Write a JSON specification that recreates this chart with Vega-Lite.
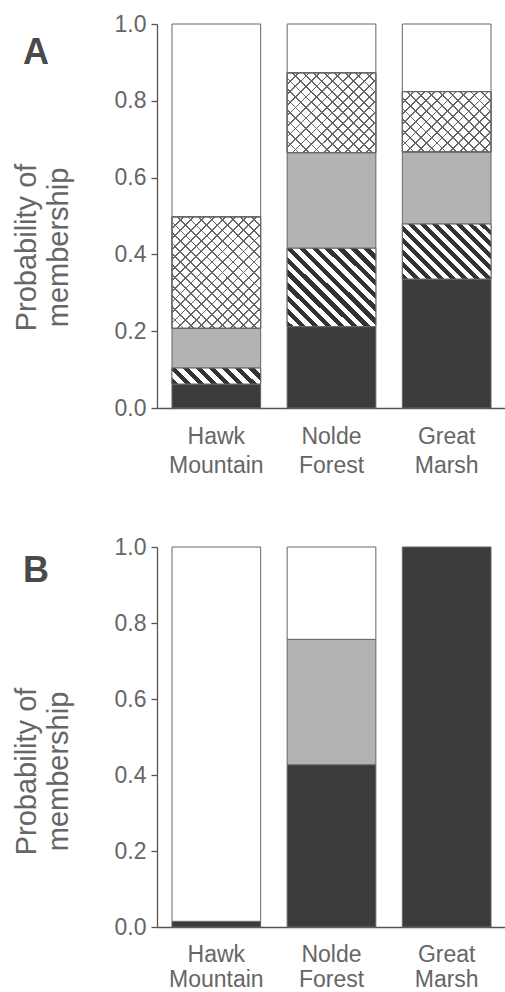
{
  "$schema": "https://vega.github.io/schema/vega-lite/v6.json",
  "padding": {"left": 12, "top": 13, "right": 0, "bottom": 0},
  "spacing": 58,
  "config": {
    "font": "Liberation Sans",
    "view": {"stroke": null},
    "axis": {"grid": false, "domainColor": "#555", "domainWidth": 1.3, "tickColor": "#555", "tickWidth": 1.3, "labelColor": "#666", "titleColor": "#666", "labelFontSize": 23, "titleFontSize": 29, "titleFontWeight": "normal"}
  },
  "datasets": {
    "panelA": [
      {"site": "Hawk Mountain", "cluster": "c1", "p": 0.0625},
      {"site": "Hawk Mountain", "cluster": "c2", "p": 0.0415},
      {"site": "Hawk Mountain", "cluster": "c3", "p": 0.1035},
      {"site": "Hawk Mountain", "cluster": "c4", "p": 0.2905},
      {"site": "Hawk Mountain", "cluster": "c5", "p": 0.502},
      {"site": "Nolde Forest", "cluster": "c1", "p": 0.212},
      {"site": "Nolde Forest", "cluster": "c2", "p": 0.204},
      {"site": "Nolde Forest", "cluster": "c3", "p": 0.249},
      {"site": "Nolde Forest", "cluster": "c4", "p": 0.208},
      {"site": "Nolde Forest", "cluster": "c5", "p": 0.127},
      {"site": "Great Marsh", "cluster": "c1", "p": 0.336},
      {"site": "Great Marsh", "cluster": "c2", "p": 0.143},
      {"site": "Great Marsh", "cluster": "c3", "p": 0.188},
      {"site": "Great Marsh", "cluster": "c4", "p": 0.157},
      {"site": "Great Marsh", "cluster": "c5", "p": 0.176}
    ],
    "panelB": [
      {"site": "Hawk Mountain", "cluster": "c1", "p": 0.015},
      {"site": "Hawk Mountain", "cluster": "c5", "p": 0.985},
      {"site": "Nolde Forest", "cluster": "c1", "p": 0.427},
      {"site": "Nolde Forest", "cluster": "c3", "p": 0.33},
      {"site": "Nolde Forest", "cluster": "c5", "p": 0.243},
      {"site": "Great Marsh", "cluster": "c1", "p": 1.0}
    ]
  },
  "vconcat": [
    {
      "title": {"text": "A", "anchor": "start", "frame": "group", "orient": "top", "offset": 0, "baseline": "alphabetic", "fontSize": 36, "fontWeight": "bold", "color": "#4a4a4a", "dx": -134, "dy": 87},
      "width": 349,
      "height": 384,
      "data": {"name": "panelA"},
      "transform": [{"stack": "p", "groupby": ["site"], "as": ["y0", "y1"]}],
      "encoding": {
        "x": {"field": "site", "type": "nominal", "sort": null, "title": null, "scale": {"paddingInner": 0.23, "paddingOuter": 0.13}, "axis": {"labelAngle": 0, "labelExpr": "split(datum.label, ' ')", "ticks": false, "labelPadding": 17, "labelLineHeight": 29, "labelBaseline": "top", "minExtent": 70, "maxExtent": 70}},
        "y": {"field": "y1", "type": "quantitative", "scale": {"domain": [0, 1]}, "axis": {"title": ["Probability of", "membership"], "values": [0, 0.2, 0.4, 0.6, 0.8, 1], "format": ".1f", "tickSize": 6, "labelPadding": 5, "minExtent": 44, "maxExtent": 44, "titlePadding": 40, "titleY": 223, "titleLineHeight": 32}},
        "y2": {"field": "y0"}
      },
      "layer": [
        {"mark": {"type": "bar", "stroke": "#666", "strokeWidth": 1}, "encoding": {"fill": {"field": "cluster", "type": "nominal", "scale": {"domain": ["c1", "c2", "c3", "c4", "c5"], "range": ["#3b3b3b", "#ffffff", "#b3b3b3", "#ffffff", "#ffffff"]}, "legend": null}}},
        {"transform": [{"filter": "datum.cluster == 'c2' && datum.site == 'Hawk Mountain'"}], "mark": {"type": "bar", "stroke": "#666", "strokeWidth": 1, "fill": {"gradient": "linear", "x1": 0, "y1": 1, "x2": 1.143, "y2": 0.794, "stops": [{"offset":0,"color":"#333"},{"offset":0.0625,"color":"#333"},{"offset":0.0625,"color":"#fff"},{"offset":0.125,"color":"#fff"},{"offset":0.125,"color":"#333"},{"offset":0.1875,"color":"#333"},{"offset":0.1875,"color":"#fff"},{"offset":0.25,"color":"#fff"},{"offset":0.25,"color":"#333"},{"offset":0.3125,"color":"#333"},{"offset":0.3125,"color":"#fff"},{"offset":0.375,"color":"#fff"},{"offset":0.375,"color":"#333"},{"offset":0.4375,"color":"#333"},{"offset":0.4375,"color":"#fff"},{"offset":0.5,"color":"#fff"},{"offset":0.5,"color":"#333"},{"offset":0.5625,"color":"#333"},{"offset":0.5625,"color":"#fff"},{"offset":0.625,"color":"#fff"},{"offset":0.625,"color":"#333"},{"offset":0.6875,"color":"#333"},{"offset":0.6875,"color":"#fff"},{"offset":0.75,"color":"#fff"},{"offset":0.75,"color":"#333"},{"offset":0.8125,"color":"#333"},{"offset":0.8125,"color":"#fff"},{"offset":0.875,"color":"#fff"},{"offset":0.875,"color":"#333"},{"offset":0.9375,"color":"#333"},{"offset":0.9375,"color":"#fff"},{"offset":1,"color":"#fff"}]}}},
        {"transform": [{"filter": "datum.cluster == 'c2' && datum.site == 'Nolde Forest'"}], "mark": {"type": "bar", "stroke": "#666", "strokeWidth": 1, "fill": {"gradient": "linear", "x1": 0, "y1": 1, "x2": 1.053, "y2": 0.06, "stops": [{"offset":0,"color":"#333"},{"offset":0.0385,"color":"#333"},{"offset":0.0385,"color":"#fff"},{"offset":0.0769,"color":"#fff"},{"offset":0.0769,"color":"#333"},{"offset":0.1154,"color":"#333"},{"offset":0.1154,"color":"#fff"},{"offset":0.1538,"color":"#fff"},{"offset":0.1538,"color":"#333"},{"offset":0.1923,"color":"#333"},{"offset":0.1923,"color":"#fff"},{"offset":0.2308,"color":"#fff"},{"offset":0.2308,"color":"#333"},{"offset":0.2692,"color":"#333"},{"offset":0.2692,"color":"#fff"},{"offset":0.3077,"color":"#fff"},{"offset":0.3077,"color":"#333"},{"offset":0.3462,"color":"#333"},{"offset":0.3462,"color":"#fff"},{"offset":0.3846,"color":"#fff"},{"offset":0.3846,"color":"#333"},{"offset":0.4231,"color":"#333"},{"offset":0.4231,"color":"#fff"},{"offset":0.4615,"color":"#fff"},{"offset":0.4615,"color":"#333"},{"offset":0.5,"color":"#333"},{"offset":0.5,"color":"#fff"},{"offset":0.5385,"color":"#fff"},{"offset":0.5385,"color":"#333"},{"offset":0.5769,"color":"#333"},{"offset":0.5769,"color":"#fff"},{"offset":0.6154,"color":"#fff"},{"offset":0.6154,"color":"#333"},{"offset":0.6538,"color":"#333"},{"offset":0.6538,"color":"#fff"},{"offset":0.6923,"color":"#fff"},{"offset":0.6923,"color":"#333"},{"offset":0.7308,"color":"#333"},{"offset":0.7308,"color":"#fff"},{"offset":0.7692,"color":"#fff"},{"offset":0.7692,"color":"#333"},{"offset":0.8077,"color":"#333"},{"offset":0.8077,"color":"#fff"},{"offset":0.8462,"color":"#fff"},{"offset":0.8462,"color":"#333"},{"offset":0.8846,"color":"#333"},{"offset":0.8846,"color":"#fff"},{"offset":0.9231,"color":"#fff"},{"offset":0.9231,"color":"#333"},{"offset":0.9615,"color":"#333"},{"offset":0.9615,"color":"#fff"},{"offset":1,"color":"#fff"}]}}},
        {"transform": [{"filter": "datum.cluster == 'c2' && datum.site == 'Great Marsh'"}], "mark": {"type": "bar", "stroke": "#666", "strokeWidth": 1, "fill": {"gradient": "linear", "x1": 0, "y1": 1, "x2": 1.17, "y2": 0.274, "stops": [{"offset":0,"color":"#333"},{"offset":0.0417,"color":"#333"},{"offset":0.0417,"color":"#fff"},{"offset":0.0833,"color":"#fff"},{"offset":0.0833,"color":"#333"},{"offset":0.125,"color":"#333"},{"offset":0.125,"color":"#fff"},{"offset":0.1667,"color":"#fff"},{"offset":0.1667,"color":"#333"},{"offset":0.2083,"color":"#333"},{"offset":0.2083,"color":"#fff"},{"offset":0.25,"color":"#fff"},{"offset":0.25,"color":"#333"},{"offset":0.2917,"color":"#333"},{"offset":0.2917,"color":"#fff"},{"offset":0.3333,"color":"#fff"},{"offset":0.3333,"color":"#333"},{"offset":0.375,"color":"#333"},{"offset":0.375,"color":"#fff"},{"offset":0.4167,"color":"#fff"},{"offset":0.4167,"color":"#333"},{"offset":0.4583,"color":"#333"},{"offset":0.4583,"color":"#fff"},{"offset":0.5,"color":"#fff"},{"offset":0.5,"color":"#333"},{"offset":0.5417,"color":"#333"},{"offset":0.5417,"color":"#fff"},{"offset":0.5833,"color":"#fff"},{"offset":0.5833,"color":"#333"},{"offset":0.625,"color":"#333"},{"offset":0.625,"color":"#fff"},{"offset":0.6667,"color":"#fff"},{"offset":0.6667,"color":"#333"},{"offset":0.7083,"color":"#333"},{"offset":0.7083,"color":"#fff"},{"offset":0.75,"color":"#fff"},{"offset":0.75,"color":"#333"},{"offset":0.7917,"color":"#333"},{"offset":0.7917,"color":"#fff"},{"offset":0.8333,"color":"#fff"},{"offset":0.8333,"color":"#333"},{"offset":0.875,"color":"#333"},{"offset":0.875,"color":"#fff"},{"offset":0.9167,"color":"#fff"},{"offset":0.9167,"color":"#333"},{"offset":0.9583,"color":"#333"},{"offset":0.9583,"color":"#fff"},{"offset":1,"color":"#fff"}]}}},
        {"transform": [{"filter": "datum.cluster == 'c4' && datum.site == 'Hawk Mountain'"}], "mark": {"type": "bar", "stroke": "#666", "strokeWidth": 1, "fill": {"gradient": "linear", "x1": 0, "y1": 1, "x2": 0.875, "y2": -0.099, "stops": [{"offset":0,"color":"#666"},{"offset":0.0089,"color":"#666"},{"offset":0.0089,"color":"rgba(255,255,255,0)"},{"offset":0.0526,"color":"rgba(255,255,255,0)"},{"offset":0.0526,"color":"#666"},{"offset":0.0616,"color":"#666"},{"offset":0.0616,"color":"rgba(255,255,255,0)"},{"offset":0.1053,"color":"rgba(255,255,255,0)"},{"offset":0.1053,"color":"#666"},{"offset":0.1142,"color":"#666"},{"offset":0.1142,"color":"rgba(255,255,255,0)"},{"offset":0.1579,"color":"rgba(255,255,255,0)"},{"offset":0.1579,"color":"#666"},{"offset":0.1668,"color":"#666"},{"offset":0.1668,"color":"rgba(255,255,255,0)"},{"offset":0.2105,"color":"rgba(255,255,255,0)"},{"offset":0.2105,"color":"#666"},{"offset":0.2195,"color":"#666"},{"offset":0.2195,"color":"rgba(255,255,255,0)"},{"offset":0.2632,"color":"rgba(255,255,255,0)"},{"offset":0.2632,"color":"#666"},{"offset":0.2721,"color":"#666"},{"offset":0.2721,"color":"rgba(255,255,255,0)"},{"offset":0.3158,"color":"rgba(255,255,255,0)"},{"offset":0.3158,"color":"#666"},{"offset":0.3247,"color":"#666"},{"offset":0.3247,"color":"rgba(255,255,255,0)"},{"offset":0.3684,"color":"rgba(255,255,255,0)"},{"offset":0.3684,"color":"#666"},{"offset":0.3774,"color":"#666"},{"offset":0.3774,"color":"rgba(255,255,255,0)"},{"offset":0.4211,"color":"rgba(255,255,255,0)"},{"offset":0.4211,"color":"#666"},{"offset":0.43,"color":"#666"},{"offset":0.43,"color":"rgba(255,255,255,0)"},{"offset":0.4737,"color":"rgba(255,255,255,0)"},{"offset":0.4737,"color":"#666"},{"offset":0.4826,"color":"#666"},{"offset":0.4826,"color":"rgba(255,255,255,0)"},{"offset":0.5263,"color":"rgba(255,255,255,0)"},{"offset":0.5263,"color":"#666"},{"offset":0.5353,"color":"#666"},{"offset":0.5353,"color":"rgba(255,255,255,0)"},{"offset":0.5789,"color":"rgba(255,255,255,0)"},{"offset":0.5789,"color":"#666"},{"offset":0.5879,"color":"#666"},{"offset":0.5879,"color":"rgba(255,255,255,0)"},{"offset":0.6316,"color":"rgba(255,255,255,0)"},{"offset":0.6316,"color":"#666"},{"offset":0.6405,"color":"#666"},{"offset":0.6405,"color":"rgba(255,255,255,0)"},{"offset":0.6842,"color":"rgba(255,255,255,0)"},{"offset":0.6842,"color":"#666"},{"offset":0.6932,"color":"#666"},{"offset":0.6932,"color":"rgba(255,255,255,0)"},{"offset":0.7368,"color":"rgba(255,255,255,0)"},{"offset":0.7368,"color":"#666"},{"offset":0.7458,"color":"#666"},{"offset":0.7458,"color":"rgba(255,255,255,0)"},{"offset":0.7895,"color":"rgba(255,255,255,0)"},{"offset":0.7895,"color":"#666"},{"offset":0.7984,"color":"#666"},{"offset":0.7984,"color":"rgba(255,255,255,0)"},{"offset":0.8421,"color":"rgba(255,255,255,0)"},{"offset":0.8421,"color":"#666"},{"offset":0.8511,"color":"#666"},{"offset":0.8511,"color":"rgba(255,255,255,0)"},{"offset":0.8947,"color":"rgba(255,255,255,0)"},{"offset":0.8947,"color":"#666"},{"offset":0.9037,"color":"#666"},{"offset":0.9037,"color":"rgba(255,255,255,0)"},{"offset":0.9474,"color":"rgba(255,255,255,0)"},{"offset":0.9474,"color":"#666"},{"offset":0.9563,"color":"#666"},{"offset":0.9563,"color":"rgba(255,255,255,0)"},{"offset":1,"color":"rgba(255,255,255,0)"}]}}},
        {"transform": [{"filter": "datum.cluster == 'c4' && datum.site == 'Hawk Mountain'"}], "mark": {"type": "bar", "stroke": "#666", "strokeWidth": 1, "fill": {"gradient": "linear", "x1": 0, "y1": 0, "x2": 0.875, "y2": 1.099, "stops": [{"offset":0,"color":"#666"},{"offset":0.0089,"color":"#666"},{"offset":0.0089,"color":"rgba(255,255,255,0)"},{"offset":0.0526,"color":"rgba(255,255,255,0)"},{"offset":0.0526,"color":"#666"},{"offset":0.0616,"color":"#666"},{"offset":0.0616,"color":"rgba(255,255,255,0)"},{"offset":0.1053,"color":"rgba(255,255,255,0)"},{"offset":0.1053,"color":"#666"},{"offset":0.1142,"color":"#666"},{"offset":0.1142,"color":"rgba(255,255,255,0)"},{"offset":0.1579,"color":"rgba(255,255,255,0)"},{"offset":0.1579,"color":"#666"},{"offset":0.1668,"color":"#666"},{"offset":0.1668,"color":"rgba(255,255,255,0)"},{"offset":0.2105,"color":"rgba(255,255,255,0)"},{"offset":0.2105,"color":"#666"},{"offset":0.2195,"color":"#666"},{"offset":0.2195,"color":"rgba(255,255,255,0)"},{"offset":0.2632,"color":"rgba(255,255,255,0)"},{"offset":0.2632,"color":"#666"},{"offset":0.2721,"color":"#666"},{"offset":0.2721,"color":"rgba(255,255,255,0)"},{"offset":0.3158,"color":"rgba(255,255,255,0)"},{"offset":0.3158,"color":"#666"},{"offset":0.3247,"color":"#666"},{"offset":0.3247,"color":"rgba(255,255,255,0)"},{"offset":0.3684,"color":"rgba(255,255,255,0)"},{"offset":0.3684,"color":"#666"},{"offset":0.3774,"color":"#666"},{"offset":0.3774,"color":"rgba(255,255,255,0)"},{"offset":0.4211,"color":"rgba(255,255,255,0)"},{"offset":0.4211,"color":"#666"},{"offset":0.43,"color":"#666"},{"offset":0.43,"color":"rgba(255,255,255,0)"},{"offset":0.4737,"color":"rgba(255,255,255,0)"},{"offset":0.4737,"color":"#666"},{"offset":0.4826,"color":"#666"},{"offset":0.4826,"color":"rgba(255,255,255,0)"},{"offset":0.5263,"color":"rgba(255,255,255,0)"},{"offset":0.5263,"color":"#666"},{"offset":0.5353,"color":"#666"},{"offset":0.5353,"color":"rgba(255,255,255,0)"},{"offset":0.5789,"color":"rgba(255,255,255,0)"},{"offset":0.5789,"color":"#666"},{"offset":0.5879,"color":"#666"},{"offset":0.5879,"color":"rgba(255,255,255,0)"},{"offset":0.6316,"color":"rgba(255,255,255,0)"},{"offset":0.6316,"color":"#666"},{"offset":0.6405,"color":"#666"},{"offset":0.6405,"color":"rgba(255,255,255,0)"},{"offset":0.6842,"color":"rgba(255,255,255,0)"},{"offset":0.6842,"color":"#666"},{"offset":0.6932,"color":"#666"},{"offset":0.6932,"color":"rgba(255,255,255,0)"},{"offset":0.7368,"color":"rgba(255,255,255,0)"},{"offset":0.7368,"color":"#666"},{"offset":0.7458,"color":"#666"},{"offset":0.7458,"color":"rgba(255,255,255,0)"},{"offset":0.7895,"color":"rgba(255,255,255,0)"},{"offset":0.7895,"color":"#666"},{"offset":0.7984,"color":"#666"},{"offset":0.7984,"color":"rgba(255,255,255,0)"},{"offset":0.8421,"color":"rgba(255,255,255,0)"},{"offset":0.8421,"color":"#666"},{"offset":0.8511,"color":"#666"},{"offset":0.8511,"color":"rgba(255,255,255,0)"},{"offset":0.8947,"color":"rgba(255,255,255,0)"},{"offset":0.8947,"color":"#666"},{"offset":0.9037,"color":"#666"},{"offset":0.9037,"color":"rgba(255,255,255,0)"},{"offset":0.9474,"color":"rgba(255,255,255,0)"},{"offset":0.9474,"color":"#666"},{"offset":0.9563,"color":"#666"},{"offset":0.9563,"color":"rgba(255,255,255,0)"},{"offset":1,"color":"rgba(255,255,255,0)"}]}}},
        {"transform": [{"filter": "datum.cluster == 'c4' && datum.site == 'Nolde Forest'"}], "mark": {"type": "bar", "stroke": "#666", "strokeWidth": 1, "fill": {"gradient": "linear", "x1": 0, "y1": 1, "x2": 1.048, "y2": 0.053, "stops": [{"offset":0,"color":"#666"},{"offset":0.0106,"color":"#666"},{"offset":0.0106,"color":"rgba(255,255,255,0)"},{"offset":0.0625,"color":"rgba(255,255,255,0)"},{"offset":0.0625,"color":"#666"},{"offset":0.0731,"color":"#666"},{"offset":0.0731,"color":"rgba(255,255,255,0)"},{"offset":0.125,"color":"rgba(255,255,255,0)"},{"offset":0.125,"color":"#666"},{"offset":0.1356,"color":"#666"},{"offset":0.1356,"color":"rgba(255,255,255,0)"},{"offset":0.1875,"color":"rgba(255,255,255,0)"},{"offset":0.1875,"color":"#666"},{"offset":0.1981,"color":"#666"},{"offset":0.1981,"color":"rgba(255,255,255,0)"},{"offset":0.25,"color":"rgba(255,255,255,0)"},{"offset":0.25,"color":"#666"},{"offset":0.2606,"color":"#666"},{"offset":0.2606,"color":"rgba(255,255,255,0)"},{"offset":0.3125,"color":"rgba(255,255,255,0)"},{"offset":0.3125,"color":"#666"},{"offset":0.3231,"color":"#666"},{"offset":0.3231,"color":"rgba(255,255,255,0)"},{"offset":0.375,"color":"rgba(255,255,255,0)"},{"offset":0.375,"color":"#666"},{"offset":0.3856,"color":"#666"},{"offset":0.3856,"color":"rgba(255,255,255,0)"},{"offset":0.4375,"color":"rgba(255,255,255,0)"},{"offset":0.4375,"color":"#666"},{"offset":0.4481,"color":"#666"},{"offset":0.4481,"color":"rgba(255,255,255,0)"},{"offset":0.5,"color":"rgba(255,255,255,0)"},{"offset":0.5,"color":"#666"},{"offset":0.5106,"color":"#666"},{"offset":0.5106,"color":"rgba(255,255,255,0)"},{"offset":0.5625,"color":"rgba(255,255,255,0)"},{"offset":0.5625,"color":"#666"},{"offset":0.5731,"color":"#666"},{"offset":0.5731,"color":"rgba(255,255,255,0)"},{"offset":0.625,"color":"rgba(255,255,255,0)"},{"offset":0.625,"color":"#666"},{"offset":0.6356,"color":"#666"},{"offset":0.6356,"color":"rgba(255,255,255,0)"},{"offset":0.6875,"color":"rgba(255,255,255,0)"},{"offset":0.6875,"color":"#666"},{"offset":0.6981,"color":"#666"},{"offset":0.6981,"color":"rgba(255,255,255,0)"},{"offset":0.75,"color":"rgba(255,255,255,0)"},{"offset":0.75,"color":"#666"},{"offset":0.7606,"color":"#666"},{"offset":0.7606,"color":"rgba(255,255,255,0)"},{"offset":0.8125,"color":"rgba(255,255,255,0)"},{"offset":0.8125,"color":"#666"},{"offset":0.8231,"color":"#666"},{"offset":0.8231,"color":"rgba(255,255,255,0)"},{"offset":0.875,"color":"rgba(255,255,255,0)"},{"offset":0.875,"color":"#666"},{"offset":0.8856,"color":"#666"},{"offset":0.8856,"color":"rgba(255,255,255,0)"},{"offset":0.9375,"color":"rgba(255,255,255,0)"},{"offset":0.9375,"color":"#666"},{"offset":0.9481,"color":"#666"},{"offset":0.9481,"color":"rgba(255,255,255,0)"},{"offset":1,"color":"rgba(255,255,255,0)"}]}}},
        {"transform": [{"filter": "datum.cluster == 'c4' && datum.site == 'Nolde Forest'"}], "mark": {"type": "bar", "stroke": "#666", "strokeWidth": 1, "fill": {"gradient": "linear", "x1": 0, "y1": 0, "x2": 1.048, "y2": 0.947, "stops": [{"offset":0,"color":"#666"},{"offset":0.0106,"color":"#666"},{"offset":0.0106,"color":"rgba(255,255,255,0)"},{"offset":0.0625,"color":"rgba(255,255,255,0)"},{"offset":0.0625,"color":"#666"},{"offset":0.0731,"color":"#666"},{"offset":0.0731,"color":"rgba(255,255,255,0)"},{"offset":0.125,"color":"rgba(255,255,255,0)"},{"offset":0.125,"color":"#666"},{"offset":0.1356,"color":"#666"},{"offset":0.1356,"color":"rgba(255,255,255,0)"},{"offset":0.1875,"color":"rgba(255,255,255,0)"},{"offset":0.1875,"color":"#666"},{"offset":0.1981,"color":"#666"},{"offset":0.1981,"color":"rgba(255,255,255,0)"},{"offset":0.25,"color":"rgba(255,255,255,0)"},{"offset":0.25,"color":"#666"},{"offset":0.2606,"color":"#666"},{"offset":0.2606,"color":"rgba(255,255,255,0)"},{"offset":0.3125,"color":"rgba(255,255,255,0)"},{"offset":0.3125,"color":"#666"},{"offset":0.3231,"color":"#666"},{"offset":0.3231,"color":"rgba(255,255,255,0)"},{"offset":0.375,"color":"rgba(255,255,255,0)"},{"offset":0.375,"color":"#666"},{"offset":0.3856,"color":"#666"},{"offset":0.3856,"color":"rgba(255,255,255,0)"},{"offset":0.4375,"color":"rgba(255,255,255,0)"},{"offset":0.4375,"color":"#666"},{"offset":0.4481,"color":"#666"},{"offset":0.4481,"color":"rgba(255,255,255,0)"},{"offset":0.5,"color":"rgba(255,255,255,0)"},{"offset":0.5,"color":"#666"},{"offset":0.5106,"color":"#666"},{"offset":0.5106,"color":"rgba(255,255,255,0)"},{"offset":0.5625,"color":"rgba(255,255,255,0)"},{"offset":0.5625,"color":"#666"},{"offset":0.5731,"color":"#666"},{"offset":0.5731,"color":"rgba(255,255,255,0)"},{"offset":0.625,"color":"rgba(255,255,255,0)"},{"offset":0.625,"color":"#666"},{"offset":0.6356,"color":"#666"},{"offset":0.6356,"color":"rgba(255,255,255,0)"},{"offset":0.6875,"color":"rgba(255,255,255,0)"},{"offset":0.6875,"color":"#666"},{"offset":0.6981,"color":"#666"},{"offset":0.6981,"color":"rgba(255,255,255,0)"},{"offset":0.75,"color":"rgba(255,255,255,0)"},{"offset":0.75,"color":"#666"},{"offset":0.7606,"color":"#666"},{"offset":0.7606,"color":"rgba(255,255,255,0)"},{"offset":0.8125,"color":"rgba(255,255,255,0)"},{"offset":0.8125,"color":"#666"},{"offset":0.8231,"color":"#666"},{"offset":0.8231,"color":"rgba(255,255,255,0)"},{"offset":0.875,"color":"rgba(255,255,255,0)"},{"offset":0.875,"color":"#666"},{"offset":0.8856,"color":"#666"},{"offset":0.8856,"color":"rgba(255,255,255,0)"},{"offset":0.9375,"color":"rgba(255,255,255,0)"},{"offset":0.9375,"color":"#666"},{"offset":0.9481,"color":"#666"},{"offset":0.9481,"color":"rgba(255,255,255,0)"},{"offset":1,"color":"rgba(255,255,255,0)"}]}}},
        {"transform": [{"filter": "datum.cluster == 'c4' && datum.site == 'Great Marsh'"}], "mark": {"type": "bar", "stroke": "#666", "strokeWidth": 1, "fill": {"gradient": "linear", "x1": 0, "y1": 1, "x2": 1.149, "y2": 0.219, "stops": [{"offset":0,"color":"#666"},{"offset":0.0121,"color":"#666"},{"offset":0.0121,"color":"rgba(255,255,255,0)"},{"offset":0.0714,"color":"rgba(255,255,255,0)"},{"offset":0.0714,"color":"#666"},{"offset":0.0836,"color":"#666"},{"offset":0.0836,"color":"rgba(255,255,255,0)"},{"offset":0.1429,"color":"rgba(255,255,255,0)"},{"offset":0.1429,"color":"#666"},{"offset":0.155,"color":"#666"},{"offset":0.155,"color":"rgba(255,255,255,0)"},{"offset":0.2143,"color":"rgba(255,255,255,0)"},{"offset":0.2143,"color":"#666"},{"offset":0.2264,"color":"#666"},{"offset":0.2264,"color":"rgba(255,255,255,0)"},{"offset":0.2857,"color":"rgba(255,255,255,0)"},{"offset":0.2857,"color":"#666"},{"offset":0.2979,"color":"#666"},{"offset":0.2979,"color":"rgba(255,255,255,0)"},{"offset":0.3571,"color":"rgba(255,255,255,0)"},{"offset":0.3571,"color":"#666"},{"offset":0.3693,"color":"#666"},{"offset":0.3693,"color":"rgba(255,255,255,0)"},{"offset":0.4286,"color":"rgba(255,255,255,0)"},{"offset":0.4286,"color":"#666"},{"offset":0.4407,"color":"#666"},{"offset":0.4407,"color":"rgba(255,255,255,0)"},{"offset":0.5,"color":"rgba(255,255,255,0)"},{"offset":0.5,"color":"#666"},{"offset":0.5121,"color":"#666"},{"offset":0.5121,"color":"rgba(255,255,255,0)"},{"offset":0.5714,"color":"rgba(255,255,255,0)"},{"offset":0.5714,"color":"#666"},{"offset":0.5836,"color":"#666"},{"offset":0.5836,"color":"rgba(255,255,255,0)"},{"offset":0.6429,"color":"rgba(255,255,255,0)"},{"offset":0.6429,"color":"#666"},{"offset":0.655,"color":"#666"},{"offset":0.655,"color":"rgba(255,255,255,0)"},{"offset":0.7143,"color":"rgba(255,255,255,0)"},{"offset":0.7143,"color":"#666"},{"offset":0.7264,"color":"#666"},{"offset":0.7264,"color":"rgba(255,255,255,0)"},{"offset":0.7857,"color":"rgba(255,255,255,0)"},{"offset":0.7857,"color":"#666"},{"offset":0.7979,"color":"#666"},{"offset":0.7979,"color":"rgba(255,255,255,0)"},{"offset":0.8571,"color":"rgba(255,255,255,0)"},{"offset":0.8571,"color":"#666"},{"offset":0.8693,"color":"#666"},{"offset":0.8693,"color":"rgba(255,255,255,0)"},{"offset":0.9286,"color":"rgba(255,255,255,0)"},{"offset":0.9286,"color":"#666"},{"offset":0.9407,"color":"#666"},{"offset":0.9407,"color":"rgba(255,255,255,0)"},{"offset":1,"color":"rgba(255,255,255,0)"}]}}},
        {"transform": [{"filter": "datum.cluster == 'c4' && datum.site == 'Great Marsh'"}], "mark": {"type": "bar", "stroke": "#666", "strokeWidth": 1, "fill": {"gradient": "linear", "x1": 0, "y1": 0, "x2": 1.149, "y2": 0.781, "stops": [{"offset":0,"color":"#666"},{"offset":0.0121,"color":"#666"},{"offset":0.0121,"color":"rgba(255,255,255,0)"},{"offset":0.0714,"color":"rgba(255,255,255,0)"},{"offset":0.0714,"color":"#666"},{"offset":0.0836,"color":"#666"},{"offset":0.0836,"color":"rgba(255,255,255,0)"},{"offset":0.1429,"color":"rgba(255,255,255,0)"},{"offset":0.1429,"color":"#666"},{"offset":0.155,"color":"#666"},{"offset":0.155,"color":"rgba(255,255,255,0)"},{"offset":0.2143,"color":"rgba(255,255,255,0)"},{"offset":0.2143,"color":"#666"},{"offset":0.2264,"color":"#666"},{"offset":0.2264,"color":"rgba(255,255,255,0)"},{"offset":0.2857,"color":"rgba(255,255,255,0)"},{"offset":0.2857,"color":"#666"},{"offset":0.2979,"color":"#666"},{"offset":0.2979,"color":"rgba(255,255,255,0)"},{"offset":0.3571,"color":"rgba(255,255,255,0)"},{"offset":0.3571,"color":"#666"},{"offset":0.3693,"color":"#666"},{"offset":0.3693,"color":"rgba(255,255,255,0)"},{"offset":0.4286,"color":"rgba(255,255,255,0)"},{"offset":0.4286,"color":"#666"},{"offset":0.4407,"color":"#666"},{"offset":0.4407,"color":"rgba(255,255,255,0)"},{"offset":0.5,"color":"rgba(255,255,255,0)"},{"offset":0.5,"color":"#666"},{"offset":0.5121,"color":"#666"},{"offset":0.5121,"color":"rgba(255,255,255,0)"},{"offset":0.5714,"color":"rgba(255,255,255,0)"},{"offset":0.5714,"color":"#666"},{"offset":0.5836,"color":"#666"},{"offset":0.5836,"color":"rgba(255,255,255,0)"},{"offset":0.6429,"color":"rgba(255,255,255,0)"},{"offset":0.6429,"color":"#666"},{"offset":0.655,"color":"#666"},{"offset":0.655,"color":"rgba(255,255,255,0)"},{"offset":0.7143,"color":"rgba(255,255,255,0)"},{"offset":0.7143,"color":"#666"},{"offset":0.7264,"color":"#666"},{"offset":0.7264,"color":"rgba(255,255,255,0)"},{"offset":0.7857,"color":"rgba(255,255,255,0)"},{"offset":0.7857,"color":"#666"},{"offset":0.7979,"color":"#666"},{"offset":0.7979,"color":"rgba(255,255,255,0)"},{"offset":0.8571,"color":"rgba(255,255,255,0)"},{"offset":0.8571,"color":"#666"},{"offset":0.8693,"color":"#666"},{"offset":0.8693,"color":"rgba(255,255,255,0)"},{"offset":0.9286,"color":"rgba(255,255,255,0)"},{"offset":0.9286,"color":"#666"},{"offset":0.9407,"color":"#666"},{"offset":0.9407,"color":"rgba(255,255,255,0)"},{"offset":1,"color":"rgba(255,255,255,0)"}]}}}
      ]
    },
    {
      "title": {"text": "B", "anchor": "start", "frame": "group", "orient": "top", "offset": 0, "baseline": "alphabetic", "fontSize": 36, "fontWeight": "bold", "color": "#4a4a4a", "dx": -134, "dy": 82},
      "width": 349,
      "height": 380,
      "data": {"name": "panelB"},
      "transform": [{"stack": "p", "groupby": ["site"], "as": ["y0", "y1"]}],
      "encoding": {
        "x": {"field": "site", "type": "nominal", "sort": null, "title": null, "scale": {"paddingInner": 0.23, "paddingOuter": 0.13}, "axis": {"labelAngle": 0, "labelExpr": "split(datum.label, ' ')", "ticks": false, "labelPadding": 16, "labelLineHeight": 25, "labelBaseline": "top", "minExtent": 70, "maxExtent": 70}},
        "y": {"field": "y1", "type": "quantitative", "scale": {"domain": [0, 1]}, "axis": {"title": ["Probability of", "membership"], "values": [0, 0.2, 0.4, 0.6, 0.8, 1], "format": ".1f", "tickSize": 6, "labelPadding": 5, "minExtent": 44, "maxExtent": 44, "titlePadding": 40, "titleY": 224, "titleLineHeight": 32}},
        "y2": {"field": "y0"}
      },
      "layer": [
        {"mark": {"type": "bar", "stroke": "#666", "strokeWidth": 1}, "encoding": {"fill": {"field": "cluster", "type": "nominal", "scale": {"domain": ["c1", "c2", "c3", "c4", "c5"], "range": ["#3b3b3b", "#ffffff", "#b3b3b3", "#ffffff", "#ffffff"]}, "legend": null}}}
      ]
    }
  ]
}
